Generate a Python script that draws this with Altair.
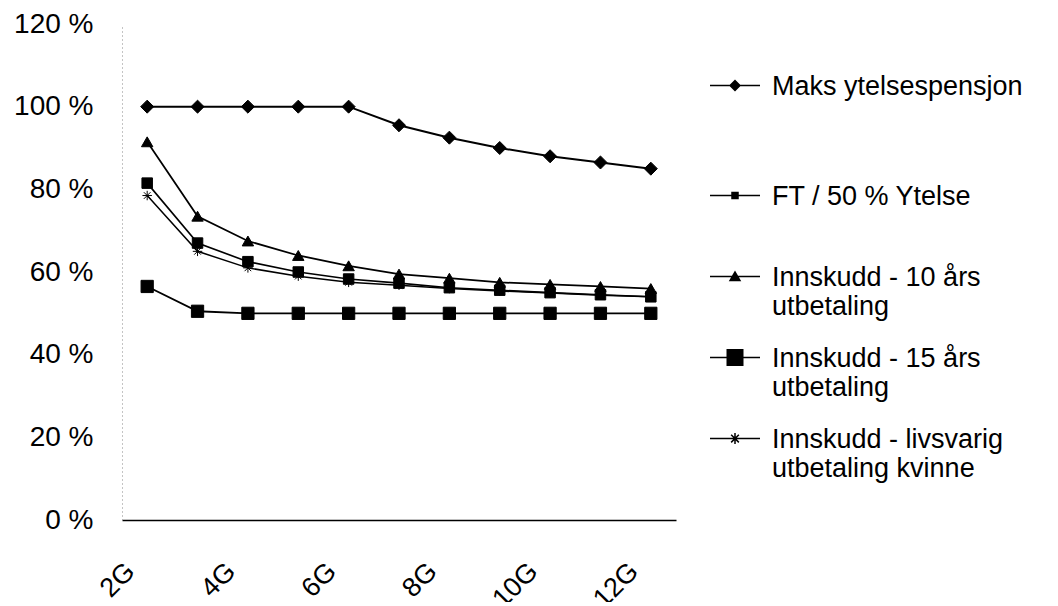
import json
import math
import altair as alt
import pandas as pd

# ---------------- data ----------------
categories = ["2G", "3G", "4G", "5G", "6G", "7G", "8G", "9G", "10G", "11G", "12G"]
shown_labels = ["2G", "4G", "6G", "8G", "10G", "12G"]

series = [
    "Maks ytelsespensjon",
    "FT / 50 % Ytelse",
    "Innskudd - 10 års utbetaling",
    "Innskudd - 15 års utbetaling",
    "Innskudd - livsvarig utbetaling kvinne",
]
legend_lines = [
    ["Maks ytelsespensjon", "", ""],
    ["FT / 50 % Ytelse", ""],
    ["Innskudd - 10 års", "utbetaling"],
    ["Innskudd - 15 års", "utbetaling"],
    ["Innskudd - livsvarig", "utbetaling kvinne"],
]

maks = [100, 100, 100, 100, 100, 95.5, 92.5, 90, 88, 86.5, 85]
ft50 = [56.5, 50.5, 50, 50, 50, 50, 50, 50, 50, 50, 50]
inn10 = [91.5, 73.5, 67.5, 64, 61.5, 59.5, 58.5, 57.5, 57, 56.5, 56]
inn15 = [81.5, 67, 62.5, 60, 58.3, 57.3, 56.2, 55.6, 55, 54.5, 54]
livs = [78.5, 65, 61, 59, 57.5, 56.8, 56, 55.4, 54.9, 54.4, 54]

values = [maks, ft50, inn10, inn15, livs]

rows = []
for name, vals in zip(series, values):
    for c, v in zip(categories, vals):
        rows.append({"G": c, "serie": name, "pct": v})
df = pd.DataFrame(rows)

# ---------------- styles ----------------
FONT = "Liberation Sans"
chart_shapes = [
    "diamond",
    "square",
    "triangle-up",
    "square",
    "M-1,0L1,0M0,-1L0,1M-0.7,-0.7L0.7,0.7M-0.7,0.7L0.7,-0.7",
]
chart_sizes = [170, 90, 240, 320, 140]
line_widths = [2, 1.5, 1.5, 2, 1.4]

# legend symbols (fill-only geometry): line + marker, unit box scaled by 25 px
DY = -0.38


def poly(pts):
    # consistent (clockwise on screen) orientation so overlaps stay filled
    area = sum(
        pts[i][0] * pts[(i + 1) % len(pts)][1] - pts[(i + 1) % len(pts)][0] * pts[i][1]
        for i in range(len(pts))
    )
    if area < 0:
        pts = list(reversed(pts))
    out = "M" + "L".join(f"{x:.3f},{y + DY:.3f}" for x, y in pts) + "Z"
    return out


def bar(x0, y0, x1, y1, w):
    dx, dy = x1 - x0, y1 - y0
    L = math.hypot(dx, dy)
    nx, ny = -dy / L * w, dx / L * w
    return poly([(x0 + nx, y0 + ny), (x1 + nx, y1 + ny), (x1 - nx, y1 - ny), (x0 - nx, y0 - ny)])


LW = 0.03
line_path = bar(-1, 0, 1, 0, LW)
d = 0.24
leg_diamond = line_path + poly([(-d, 0), (0, -d), (d, 0), (0, d)])
s = 0.15
leg_small_sq = line_path + poly([(-s, -s), (s, -s), (s, s), (-s, s)])
t = 0.25
leg_tri = line_path + poly([(0, -t * 0.95), (t, t * 0.75), (-t, t * 0.75)])
b = 0.34
leg_big_sq = line_path + poly([(-b, -b), (b, -b), (b, b), (-b, b)])
a = 0.22
a2 = a * 0.7
leg_star = (
    line_path
    + bar(0, -a, 0, a, 0.03)
    + bar(-a2, -a2, a2, a2, 0.03)
    + bar(-a2, a2, a2, -a2, 0.03)
)
legend_shapes = [leg_diamond, leg_small_sq, leg_tri, leg_big_sq, leg_star]

label_expr = (
    json.dumps(legend_lines, ensure_ascii=False)
    + "[indexof("
    + json.dumps(series, ensure_ascii=False)
    + ", datum.label)]"
)

x_enc = alt.X(
    "G:N",
    sort=categories,
    scale=alt.Scale(type="point", padding=0.5, domain=categories),
    axis=alt.Axis(
        title=None,
        values=shown_labels,
        labelAngle=-45,
        labelAlign="right",
        labelBaseline="middle",
        labelPadding=47,
        labelOffset=-17,
        ticks=False,
        labelFontSize=27,
        labelFont=FONT,
        labelColor="black",
        domainColor="black",
        domainWidth=1.5,
    ),
)
y_enc = alt.Y(
    "pct:Q",
    scale=alt.Scale(domain=[0, 120], nice=False),
    axis=alt.Axis(
        title=None,
        values=[0, 20, 40, 60, 80, 100, 120],
        labelExpr="datum.value + ' %'",
        ticks=False,
        grid=False,
        labelPadding=29,
        labelFontSize=28,
        labelFont=FONT,
        labelColor="black",
        domainColor="#888888",
        domainDash=[1, 3],
        domainWidth=1,
    ),
)

lines = (
    alt.Chart(df)
    .mark_line(color="black")
    .encode(
        x=x_enc,
        y=y_enc,
        detail="serie:N",
        strokeWidth=alt.StrokeWidth(
            "serie:N", scale=alt.Scale(domain=series, range=line_widths), legend=None
        ),
    )
)

points = (
    alt.Chart(df)
    .mark_point(filled=True, fill="black", stroke="black", strokeWidth=1, opacity=1)
    .encode(
        x=x_enc,
        y=y_enc,
        shape=alt.Shape(
            "serie:N", scale=alt.Scale(domain=series, range=chart_shapes), legend=None
        ),
        size=alt.Size(
            "serie:N", scale=alt.Scale(domain=series, range=chart_sizes), legend=None
        ),
    )
)

legend_layer = (
    alt.Chart(df)
    .transform_filter("datum.pct < -1000")
    .mark_point(filled=True, fill="black", opacity=1)
    .encode(
        x=x_enc,
        y=y_enc,
        shape=alt.Shape(
            "serie:N",
            scale=alt.Scale(domain=series, range=legend_shapes),
            legend=alt.Legend(
                title=None,
                orient="none",
                legendX=587,
                legendY=45,
                symbolSize=2500,
                symbolFillColor="black",
                labelExpr=label_expr,
                labelFontSize=27,
                labelFont=FONT,
                labelColor="black",
                labelBaseline="alphabetic",
                labelLimit=0,
                labelOffset=11,
                rowPadding=21,
                padding=0,
            ),
        ),
    )
)

chart = (
    alt.layer(lines, points, legend_layer)
    .resolve_scale(shape="independent", size="independent")
    .properties(
        width=554,
        height=496,
        autosize=alt.AutoSizeParams(type="none"),
        padding={"left": 114, "top": 16, "right": 374, "bottom": 82},
        background="white",
    )
    .configure_view(stroke=None)
)

chart.save("out.html", embed_options={"renderer": "svg", "actions": False})
